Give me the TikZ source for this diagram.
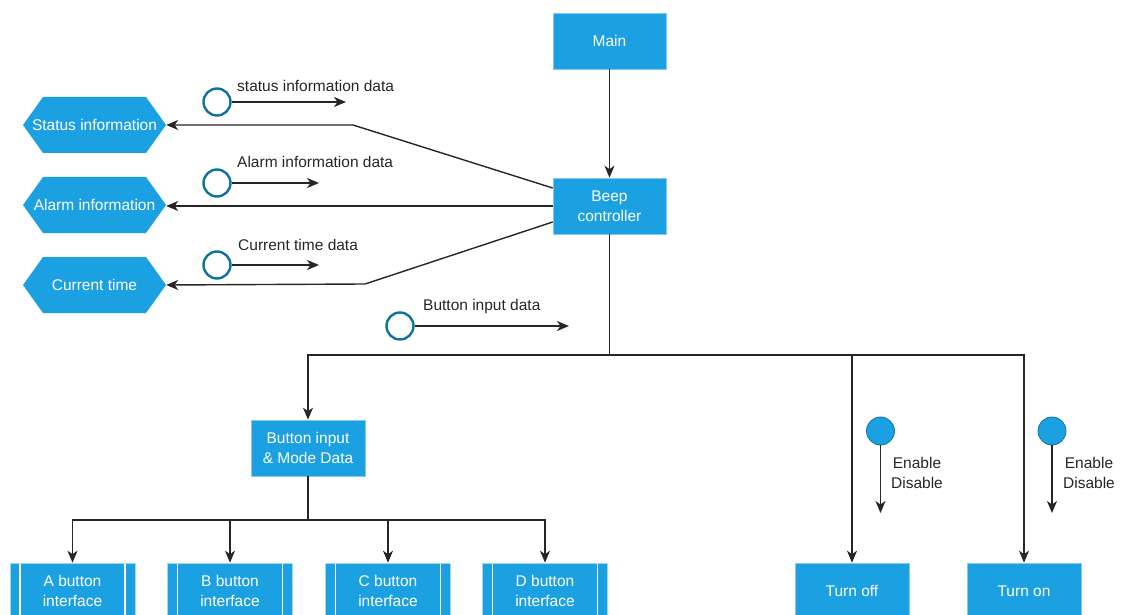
\documentclass[tikz,border=0pt]{standalone}
\usepackage{fontspec}
\setmainfont{Liberation Sans}
\usetikzlibrary{arrows.meta}
\definecolor{boxblue}{HTML}{1BA1E2}
\definecolor{ringblue}{HTML}{10739E}
\newcommand{\lbl}{\fontsize{15.5}{19.5}\selectfont}
\tikzset{
  block/.style={fill=boxblue, draw=boxblue!55, line width=0.6, text=white, minimum width=113, minimum height=56, inner sep=0, align=center, font=\lbl},
  hexbox/.style={minimum width=143, minimum height=56, inner sep=0, text=white, font=\lbl,
    path picture={\fill[boxblue] (path picture bounding box.west) -- ([xshift=20]path picture bounding box.north west) -- ([xshift=-20]path picture bounding box.north east) -- (path picture bounding box.east) -- ([xshift=-20]path picture bounding box.south east) -- ([xshift=20]path picture bounding box.south west) -- cycle;}},
  ifbox/.style={block, minimum width=125, draw=boxblue!40,
    path picture={\draw[white, line width=1.4] ([xshift=10]path picture bounding box.north west) -- ([xshift=10]path picture bounding box.south west);
                  \draw[white, line width=1.4] ([xshift=-10]path picture bounding box.north east) -- ([xshift=-10]path picture bounding box.south east);}},
  flag/.style={circle, draw=ringblue, line width=2.4, fill=white, minimum size=27, inner sep=0},
  switch/.style={circle, draw=ringblue, line width=0.8, fill=boxblue, minimum size=28, inner sep=0},
  note/.style={font=\lbl, text=black!85, inner sep=0},
  arr/.style={-{Stealth[length=12pt,width=10pt,inset=3.5pt]}, line width=1.4, draw=black!85},
  wire/.style={line width=1.4, draw=black!85}
}

\begin{document}
\begin{tikzpicture}[x=1pt, y=-1pt]
  \useasboundingbox (0,0) rectangle (1125,615);

  % controller column
  \node[block] (main) at (609.5,41) {Main};
  \node[block] (beep) at (609.5,206) {Beep\\controller};

  % outputs on the left
  \node[hexbox] (status) at (94.5,125) {Status information};
  \node[hexbox] (alarm) at (94.5,205) {Alarm information};
  \node[hexbox] (curtime) at (94.5,285) {Current time};

  % button side
  \node[block, minimum width=114] (btnmode) at (308,448) {Button input\\\& Mode Data};
  \node[ifbox] (ifa) at (72.5,591) {A button\\interface};
  \node[ifbox] (ifb) at (230,591) {B button\\interface};
  \node[ifbox] (ifc) at (388,591) {C button\\interface};
  \node[ifbox] (ifd) at (545,591) {D button\\interface};

  % beeper switches
  \node[block, minimum width=114] (turnoff) at (852,591) {Turn off};
  \node[block, minimum width=114] (turnon) at (1024,591) {Turn on};

  % connectors
  \draw[arr] (main) -- (beep);
  \draw[arr] ([yshift=18]beep.west) -- (353,125) -- (status.east);
  \draw[arr] (beep.west) -- (alarm.east |- beep.west);
  \draw[arr] ([yshift=-16]beep.west) -- (365,284) -- (curtime.east);

  \coordinate (split) at (609.5,355);
  \draw[wire] (beep.south) -- (split);
  \draw[arr] (split) -| (btnmode.north);
  \draw[arr] (split) -| (turnoff.north);
  \draw[arr] (split) -| (turnon.north);

  \coordinate (fork) at (308,520);
  \draw[wire] (btnmode.south) -- (fork);
  \draw[arr] (fork) -| (ifa.north);
  \draw[arr] (fork) -| (ifb.north);
  \draw[arr] (fork) -| (ifc.north);
  \draw[arr] (fork) -| (ifd.north);

  % data couples
  \node[flag] (statusflag) at (217,102) {};
  \coordinate (statusend) at (346,102);
  \draw[arr] (statusflag.east) -- (statusend);
  \node[note, anchor=west] (statustxt) at (237,86) {status information data};

  \node[flag] (alarmflag) at (217,183) {};
  \coordinate (alarmend) at (319,183);
  \draw[arr] (alarmflag.east) -- (alarmend);
  \node[note, anchor=west] (alarmtxt) at (237,162) {Alarm information data};

  \node[flag] (timeflag) at (217,265) {};
  \coordinate (timeend) at (319,265);
  \draw[arr] (timeflag.east) -- (timeend);
  \node[note, anchor=west] (timetxt) at (238,245) {Current time data};

  \node[flag] (btnflag) at (400,326) {};
  \coordinate (btnend) at (569,326);
  \draw[arr] (btnflag.east) -- (btnend);
  \node[note, anchor=west] (btntxt) at (423,306) {Button input data};

  % control flags
  \node[switch] (offflag) at (880.5,431) {};
  \coordinate (offend) at (880.5,513);
  \draw[arr] (offflag.south) -- (offend);
  \node[note, align=center] (offtxt) at (917,473) {Enable\\Disable};

  \node[switch] (onflag) at (1052,431) {};
  \coordinate (onend) at (1052,513);
  \draw[arr] (onflag.south) -- (onend);
  \node[note, align=center] (ontxt) at (1089,473) {Enable\\Disable};
\end{tikzpicture}
\end{document}
